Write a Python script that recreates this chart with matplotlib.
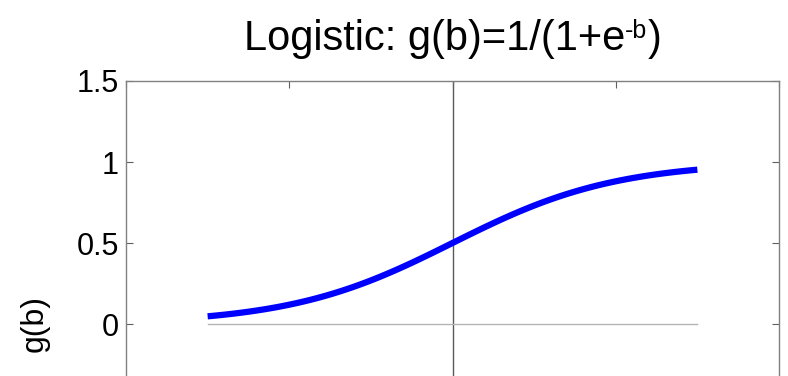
import numpy as np
import matplotlib
matplotlib.use("Agg")
import matplotlib.pyplot as plt

plt.rcParams['font.family'] = ['Liberation Sans', 'DejaVu Sans']

# input range of the logistic curve
b_start, b_stop, n_points = -3.0, 3.0, 121
x_limits = [-4, 4]
y_limits = [-1.5, 1.5]
x_ticks = [-4, -2, 0, 2, 4]
y_ticks = [0, 0.5, 1, 1.5]
y_tick_labels = ['0', '0.5', '1', '1.5']
title_parts = ['Logistic: g(b)=1/(1+e', '-b', ')']

b = np.linspace(b_start, b_stop, n_points)
g = 1.0 / (1.0 + np.exp(-b))

W, H = 788, 376
fig = plt.figure(figsize=(W / 100, H / 100), dpi=100)
left, right, top = 126 / W, 779 / W, 1 - 81 / H
height = 486 / H
ax = fig.add_axes([left, top - height, right - left, height])

spine_col = '#808080'
for s in ax.spines.values():
    s.set_color(spine_col)
    s.set_linewidth(1.0)

# axis reference lines
ax.axvline(0, color='#5a5a5a', lw=1.0, zorder=1)
ax.plot([b_start, b_stop], [0, 0], color='#b4b4b4', lw=1.0, zorder=1)

ax.plot(b, g, color='#0000ff', lw=4.5, solid_capstyle='butt', zorder=3)

ax.set_xlim(x_limits)
ax.set_ylim(y_limits)
ax.set_xticks(x_ticks)
ax.set_xticklabels([])
ax.set_yticks(y_ticks)
ax.set_yticklabels(y_tick_labels)
ax.tick_params(direction='in', length=5, width=0.8, color='#606060',
               top=True, right=True, labelsize=22, pad=5)

fig.text(35 / W, 1 - 324 / H, 'g(b)', rotation=90, ha='center',
         va='center', fontsize=23)

# title assembled from base text, raised exponent and closing parenthesis
renderer = fig.canvas.get_renderer()
base_y = 1 - 50 / H
sizes = [30, 18, 30]
raises = [0, 12.5, 0]
pieces = []
for txt, fs, dy in zip(title_parts, sizes, raises):
    t = fig.text(0, base_y, txt, fontsize=fs, ha='left', va='baseline')
    pieces.append((t, dy))
widths = [t.get_window_extent(renderer).width for t, _ in pieces]
total = sum(widths)
x0 = (left + right) / 2 * W - total / 2
for (t, dy), w in zip(pieces, widths):
    t.set_position((x0 / W, base_y + dy / H))
    x0 += w

fig.savefig('out.png', dpi=100)
